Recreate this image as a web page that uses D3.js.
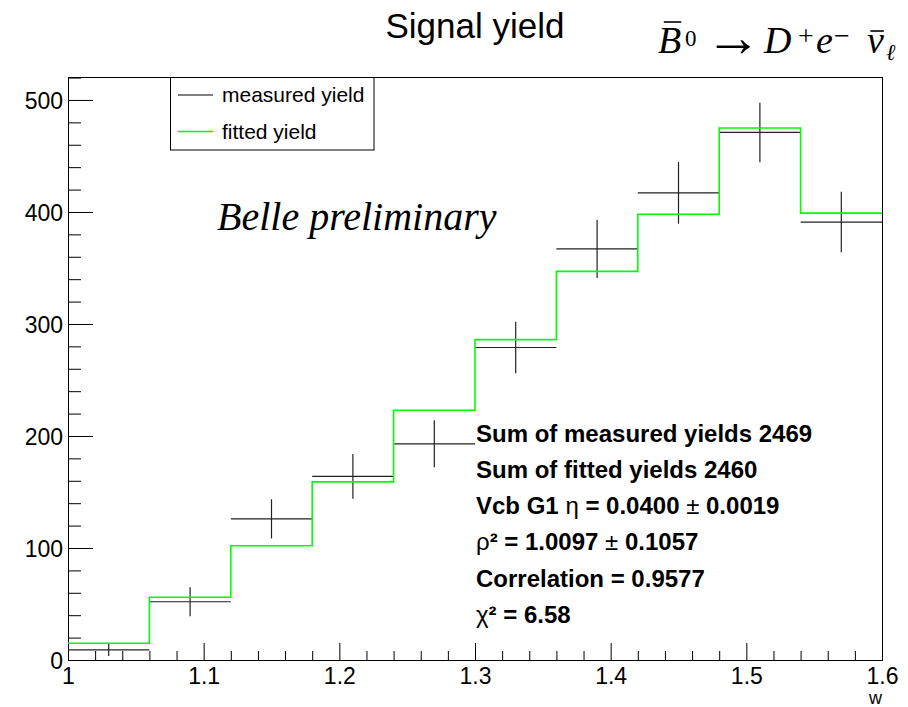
<!DOCTYPE html>
<html>
<head>
<meta charset="utf-8">
<script src="https://cdn.jsdelivr.net/npm/d3@7"></script>
<style>
  body { margin: 0; background: #fff; }
  svg { display: block; }
</style>
</head>
<body>
<div id="chart"></div>
<script>
// bins of w
const binLow  = [1.00, 1.06, 1.12, 1.18, 1.24, 1.30, 1.36, 1.42, 1.48, 1.54];
const binHigh = [1.06, 1.12, 1.18, 1.24, 1.30, 1.36, 1.42, 1.48, 1.54, 1.60];
const measured    = [9, 52, 126, 164, 193, 279, 367, 417, 471, 391];
const measuredErr = [5.5, 13, 17.5, 20, 21, 23, 26, 27.5, 26.5, 27];
const fitted      = [15, 56, 102, 159, 223, 286, 347, 398, 475, 399];

const xTicks = [1, 1.1, 1.2, 1.3, 1.4, 1.5, 1.6];
const yTicks = [0, 100, 200, 300, 400, 500];
const legendLabels = ["measured yield", "fitted yield"];

// [text, bold?]
const statLines = [
  [["Sum of measured yields 2469", true]],
  [["Sum of fitted yields 2460", true]],
  [["Vcb G1 ", true], ["η", false], [" = 0.0400 ", true], ["±", false], [" 0.0019", true]],
  [["ρ", false], ["² = 1.0097 ", true], ["±", false], [" 0.1057", true]],
  [["Correlation = 0.9577", true]],
  [["χ", false], ["² = 6.58", true]]
];

const width = 908;
const height = 707;
const margin = { top: 77, right: 26, bottom: 47, left: 68 };
const sans = "'Liberation Sans', Arial, Helvetica, sans-serif";
const serif = "'Liberation Serif', 'Times New Roman', serif";

const svg = d3.select("#chart")
  .append("svg")
  .attr("width", width)
  .attr("height", height);

const x = d3.scaleLinear()
  .domain([1, 1.6])
  .range([margin.left, width - margin.right]);

const y = d3.scaleLinear()
  .domain([0, 520.5])
  .range([height - margin.bottom, margin.top]);

// frame
svg.append("rect")
  .attr("x", margin.left + 0.5)
  .attr("y", margin.top + 0.5)
  .attr("width", x.range()[1] - x.range()[0])
  .attr("height", y.range()[0] - y.range()[1])
  .attr("fill", "none")
  .attr("stroke", "#000")
  .attr("stroke-width", 1);

// minor ticks
const xMinor = d3.range(1.02, 1.6, 0.02).filter((v) => Math.abs(v * 10 - Math.round(v * 10)) > 1e-6);
const yMinor = d3.range(20, 521, 20).filter((v) => v % 100 !== 0);

svg.append("g")
  .attr("transform", `translate(0, ${y(0)})`)
  .call(d3.axisBottom(x).tickValues(xMinor).tickSize(-9).tickFormat(""))
  .call((g) => g.select(".domain").remove());

svg.append("g")
  .attr("transform", `translate(${x(1)}, 0)`)
  .call(d3.axisLeft(y).tickValues(yMinor).tickSize(-13).tickFormat(""))
  .call((g) => g.select(".domain").remove());

// major axes
const xAxis = svg.append("g")
  .attr("transform", `translate(0, ${y(0)})`)
  .call(d3.axisBottom(x).tickValues(xTicks).tickSize(-17).tickSizeOuter(0).tickPadding(8).tickFormat(d3.format("")));

const yAxis = svg.append("g")
  .attr("transform", `translate(${x(1)}, 0)`)
  .call(d3.axisLeft(y).tickValues(yTicks).tickSize(-25).tickSizeOuter(0).tickPadding(5));

[xAxis, yAxis].forEach((g) => {
  g.attr("font-family", sans).attr("font-size", 23);
  g.selectAll("text").attr("fill", "#000");
});
yAxis.selectAll("text").attr("dy", "0.37em");

svg.append("text")
  .attr("x", x(1.6))
  .attr("y", 704)
  .attr("text-anchor", "end")
  .attr("font-family", sans)
  .attr("font-size", 18)
  .text("w");

// measured yields: horizontal bin line + vertical error bar
const bins = measured.map((m, i) => ({ lo: binLow[i], hi: binHigh[i], m, e: measuredErr[i], f: fitted[i] }));

svg.selectAll(".meas-h")
  .data(bins)
  .enter()
  .append("line")
  .attr("class", "meas-h")
  .attr("x1", (d) => x(d.lo))
  .attr("x2", (d) => x(d.hi))
  .attr("y1", (d) => y(d.m))
  .attr("y2", (d) => y(d.m))
  .attr("stroke", "#222")
  .attr("stroke-width", 1.2);

svg.selectAll(".meas-v")
  .data(bins)
  .enter()
  .append("line")
  .attr("class", "meas-v")
  .attr("x1", (d) => x((d.lo + d.hi) / 2))
  .attr("x2", (d) => x((d.lo + d.hi) / 2))
  .attr("y1", (d) => y(d.m - d.e))
  .attr("y2", (d) => y(d.m + d.e))
  .attr("stroke", "#222")
  .attr("stroke-width", 1.2);

// fitted yields as step histogram
const stepPts = bins.map((d) => [d.lo, d.f]).concat([[binHigh[binHigh.length - 1], fitted[fitted.length - 1]]]);

svg.append("path")
  .datum(stepPts)
  .attr("fill", "none")
  .attr("stroke", "#00ff00")
  .attr("stroke-width", 1.6)
  .attr("d", d3.line().x((d) => x(d[0])).y((d) => y(d[1])).curve(d3.curveStepAfter));

// legend
const legend = svg.append("g");
legend.append("rect")
  .attr("x", 170.5)
  .attr("y", 77.5)
  .attr("width", 203.5)
  .attr("height", 72.5)
  .attr("fill", "#fff")
  .attr("stroke", "#000");

legendLabels.forEach((label, i) => {
  const ly = 95 + i * 36.5;
  legend.append("line")
    .attr("x1", 178)
    .attr("x2", 213)
    .attr("y1", ly)
    .attr("y2", ly)
    .attr("stroke", i === 0 ? "#000" : "#00ff00")
    .attr("stroke-width", i === 0 ? 1 : 1.6);
  legend.append("text")
    .attr("x", 222)
    .attr("y", ly + 7)
    .attr("font-family", sans)
    .attr("font-size", 21)
    .text(label);
});

// title
svg.append("text")
  .attr("x", 475)
  .attr("y", 38)
  .attr("text-anchor", "middle")
  .attr("font-family", sans)
  .attr("font-size", 35)
  .text("Signal yield");

// decay formula, laid out piece by piece
const formulaPieces = [
  { t: "B", x: 658, y: 53, size: 38, italic: true },
  { t: "0", x: 685, y: 46, size: 23 },
  { t: "→", x: 705, y: 56, size: 56 },
  { t: "D", x: 764, y: 53, size: 38, italic: true },
  { t: "+", x: 798, y: 45, size: 28 },
  { t: "e", x: 816, y: 53, size: 38, italic: true },
  { t: "−", x: 834, y: 45, size: 28 },
  { t: "ν", x: 867, y: 53, size: 38, italic: true },
  { t: "ℓ", x: 886, y: 60, size: 23, italic: true }
];
const formula = svg.append("text")
  .attr("font-family", serif);
formulaPieces.forEach((p) => {
  formula.append("tspan")
    .attr("x", p.x)
    .attr("y", p.y)
    .attr("font-size", p.size)
    .attr("font-style", p.italic ? "italic" : "normal")
    .text(p.t);
});

const fnode = formula.node();
[[0, 31, 0.25], [7, 22, 0.2]].forEach(([idx, up, k]) => {
  const ext = fnode.getExtentOfChar(idx);
  svg.append("line")
    .attr("x1", ext.x + ext.width * k)
    .attr("x2", ext.x + ext.width * 1.0)
    .attr("y1", 53 - up)
    .attr("y2", 53 - up)
    .attr("stroke", "#000")
    .attr("stroke-width", 1.6);
});

// Belle preliminary
svg.append("text")
  .attr("x", 217)
  .attr("y", 230)
  .attr("font-family", serif)
  .attr("font-style", "italic")
  .attr("font-size", 40)
  .text("Belle preliminary");

// fit summary
const stats = svg.append("g")
  .attr("font-family", sans)
  .attr("font-size", 24);
statLines.forEach((segs, i) => {
  const t = stats.append("text")
    .attr("x", 476)
    .attr("y", 441.5 + i * 36.3);
  segs.forEach(([s, bold]) => {
    t.append("tspan")
      .attr("font-weight", bold ? "bold" : "normal")
      .text(s);
  });
});
</script>
</body>
</html>
